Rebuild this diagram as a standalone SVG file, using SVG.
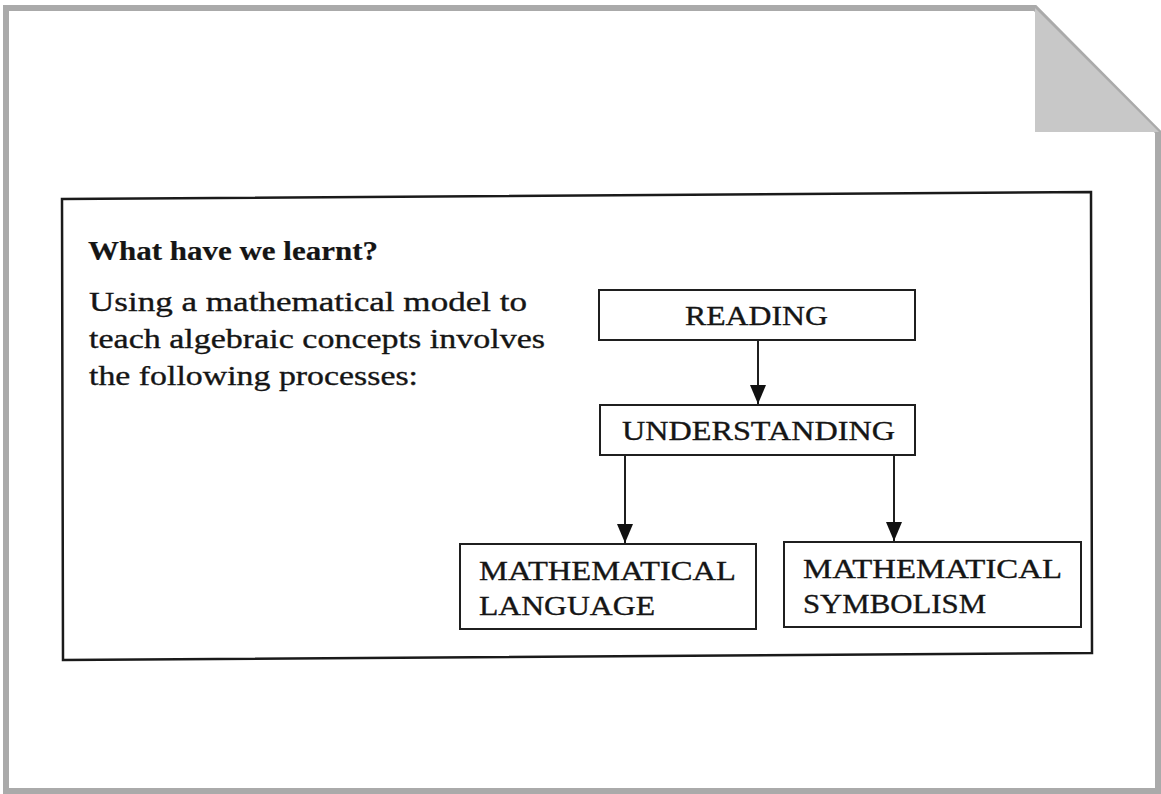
<svg xmlns="http://www.w3.org/2000/svg" width="1161" height="794" viewBox="0 0 1161 794">
<style>
.page{fill:#ffffff;stroke:#aaaaaa;stroke-width:6}
.frame{fill:none;stroke:#1a1a1a;stroke-width:2.5}
.box{fill:#ffffff;stroke:#1f1f1f;stroke-width:2}
.t{font-family:"Liberation Serif","Times New Roman",serif;font-size:27.5px;fill:#151515;stroke:#151515;stroke-width:0.35}
.b{font-weight:bold;stroke-width:0.2}
.edge{fill:none;stroke:#1f1f1f;stroke-width:2}
</style>
<defs>
<marker id="arrd" markerUnits="userSpaceOnUse" markerWidth="16" markerHeight="19" refX="8" refY="19" orient="0" viewBox="0 0 16 19">
<path d="M0,0 L16,0 L8,19 Z" fill="#111"/>
</marker>
</defs>
<g id="page">
<path class="page" d="M6,8 L1035,8 L1158,132 L1158,791 L6,791 Z"/>
<path d="M1035,8 L1159,132 L1035,132 Z" fill="#c8c8c8"/>
</g>
<g id="frame">
<path class="frame" d="M62,199 L1091,192 L1092,653 L63,660 Z"/>
</g>
<g id="intro">
<text class="t b" x="88" y="260" textLength="290" lengthAdjust="spacingAndGlyphs">What have we learnt?</text>
<text class="t" x="89" y="311" textLength="438" lengthAdjust="spacingAndGlyphs">Using a mathematical model to</text>
<text class="t" x="89" y="348" textLength="456" lengthAdjust="spacingAndGlyphs">teach algebraic concepts involves</text>
<text class="t" x="89" y="385" textLength="329" lengthAdjust="spacingAndGlyphs">the following processes:</text>
</g>
<g id="connectors">
<line class="edge" x1="758" y1="340" x2="758" y2="404" marker-end="url(#arrd)"/>
<line class="edge" x1="625" y1="455" x2="625" y2="543" marker-end="url(#arrd)"/>
<line class="edge" x1="894" y1="455" x2="894" y2="541" marker-end="url(#arrd)"/>
</g>
<g id="reading">
<rect class="box" x="599" y="290" width="316" height="50"/>
<text class="t" x="685" y="325" textLength="143" lengthAdjust="spacingAndGlyphs">READING</text>
</g>
<g id="understanding">
<rect class="box" x="600" y="405" width="315" height="50"/>
<text class="t" x="622" y="440" textLength="273" lengthAdjust="spacingAndGlyphs">UNDERSTANDING</text>
</g>
<g id="language">
<rect class="box" x="460" y="544" width="296" height="85"/>
<text class="t" x="479" y="580" textLength="257" lengthAdjust="spacingAndGlyphs">MATHEMATICAL</text>
<text class="t" x="479" y="615" textLength="176" lengthAdjust="spacingAndGlyphs">LANGUAGE</text>
</g>
<g id="symbolism">
<rect class="box" x="784" y="542" width="297" height="85"/>
<text class="t" x="803" y="578" textLength="259" lengthAdjust="spacingAndGlyphs">MATHEMATICAL</text>
<text class="t" x="803" y="613" textLength="183" lengthAdjust="spacingAndGlyphs">SYMBOLISM</text>
</g>
</svg>
